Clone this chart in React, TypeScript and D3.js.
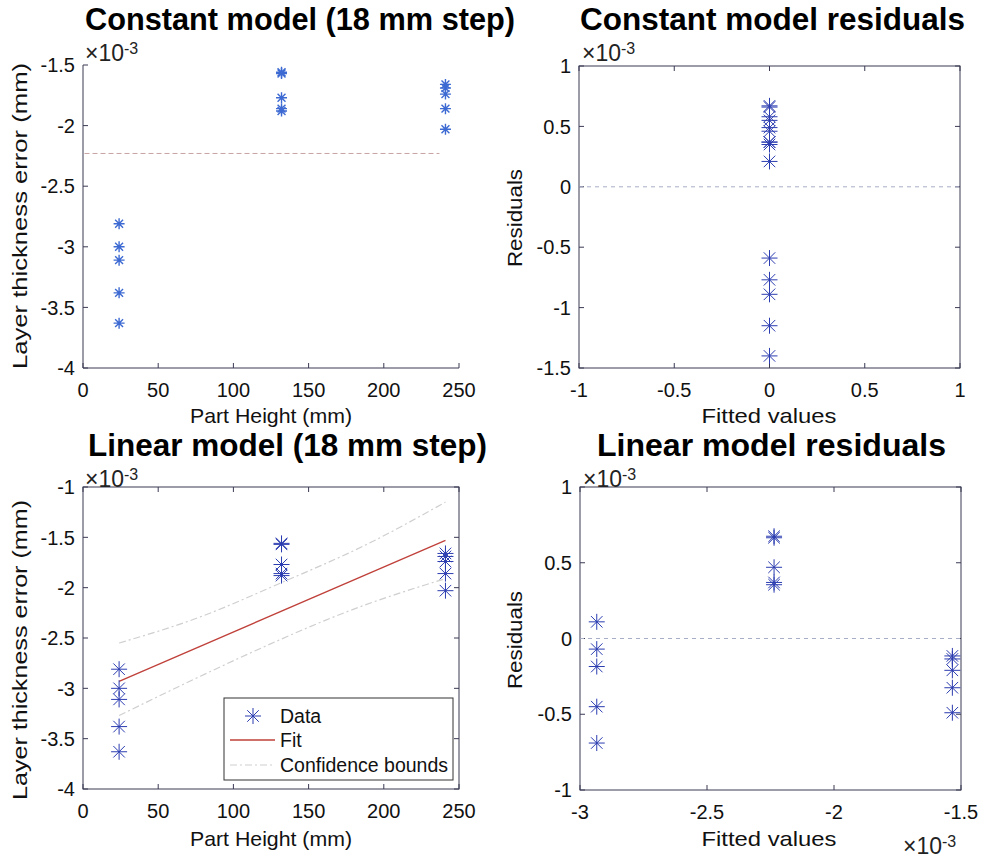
import React from "react";
import * as d3 from "d3";

// ---------- data (values in units of 1e-3 mm) ----------
const partHeights = [24, 24, 24, 24, 24, 132, 132, 132, 132, 132, 241, 241, 241, 241, 241];
const thicknessError = [-2.81, -3.0, -3.11, -3.38, -3.63, -1.56, -1.57, -1.77, -1.86, -1.88, -1.66, -1.69, -1.74, -1.86, -2.03];

const constantFitValue = -2.23;
const constantFitRange = [1, 237];
const constantFitted = [0, 0, 0, 0, 0, 0, 0, 0, 0, 0, 0, 0, 0, 0, 0];
const constantResiduals = [-0.59, -0.77, -0.89, -1.15, -1.4, 0.67, 0.66, 0.46, 0.37, 0.35, 0.58, 0.55, 0.49, 0.37, 0.21];

const linearFitX = [24, 241];
const linearFitY = [-2.93, -1.53];
const boundX = [24, 78, 132, 186, 241];
const upperBound = [-2.55, -2.29, -1.95, -1.59, -1.15];
const lowerBound = [-3.27, -2.88, -2.51, -2.18, -1.91];

const linearFitted = [-2.934, -2.934, -2.934, -2.934, -2.934, -2.236, -2.236, -2.236, -2.236, -2.236, -1.534, -1.534, -1.534, -1.534, -1.534];
const linearResiduals = [0.11, -0.07, -0.185, -0.45, -0.69, 0.675, 0.665, 0.47, 0.37, 0.355, -0.115, -0.135, -0.21, -0.325, -0.49];

const heightTicks = [0, 50, 100, 150, 200, 250];
const constErrTicks = [-4, -3.5, -3, -2.5, -2, -1.5];
const linErrTicks = [-4, -3.5, -3, -2.5, -2, -1.5, -1];
const constFittedTicks = [-1, -0.5, 0, 0.5, 1];
const constResidTicks = [-1.5, -1, -0.5, 0, 0.5, 1];
const linFittedTicks = [-3, -2.5, -2, -1.5];
const linResidTicks = [-1, -0.5, 0, 0.5, 1];

const titles = ["Constant model (18 mm step)", "Constant model residuals", "Linear model (18 mm step)", "Linear model residuals"];
const legendLabels = ["Data", "Fit", "Confidence bounds"];

// ---------- styling ----------
const FONT = "'Liberation Sans', Arial, Helvetica, sans-serif";
const AXIS = "#3a3a55";
const STAR = "#2b3cb0";
const STAR_LIGHT = "#3d6ad2";

function starPath(r: number) {
  const d = r * 0.72;
  return `M${-r},0L${r},0M0,${-r}L0,${r}M${-d},${-d}L${d},${d}M${-d},${d}L${d},${-d}`;
}

type Box = { l: number; r: number; t: number; b: number };

function Axes({ box, xDomain, yDomain, xTicks, yTicks, boxed }: any) {
  const x = d3.scaleLinear().domain(xDomain).range([box.l, box.r]);
  const y = d3.scaleLinear().domain(yDomain).range([box.b, box.t]);
  const tl = 5;
  return (
    <g>
      {boxed ? (
        <rect x={box.l} y={box.t} width={box.r - box.l} height={box.b - box.t} fill="none" stroke={AXIS} strokeWidth={1} />
      ) : (
        <path d={`M${box.l},${box.t}L${box.l},${box.b}L${box.r},${box.b}`} fill="none" stroke={AXIS} strokeWidth={1} />
      )}
      {xTicks.map((v: number) => (
        <g key={"x" + v}>
          <line x1={x(v)} x2={x(v)} y1={box.b} y2={box.b - tl} stroke={AXIS} />
          {boxed && <line x1={x(v)} x2={x(v)} y1={box.t} y2={box.t + tl} stroke={AXIS} />}
          <text x={x(v)} y={box.b + 29} textAnchor="middle" fontSize={20} fontFamily={FONT} fill="#111">
            {String(v)}
          </text>
        </g>
      ))}
      {yTicks.map((v: number) => (
        <g key={"y" + v}>
          <line x1={box.l} x2={box.l + tl} y1={y(v)} y2={y(v)} stroke={AXIS} />
          {boxed && <line x1={box.r} x2={box.r - tl} y1={y(v)} y2={y(v)} stroke={AXIS} />}
          <text x={box.l - 8} y={y(v)} dy="0.36em" textAnchor="end" fontSize={20} fontFamily={FONT} fill="#111">
            {String(v)}
          </text>
        </g>
      ))}
    </g>
  );
}

function Exponent({ x, y }: { x: number; y: number }) {
  return (
    <text x={x} y={y} fontSize={23} fontFamily={FONT} fill="#222">
      ×10
      <tspan dy={-7} fontSize={16}>-3</tspan>
    </text>
  );
}

function Title({ x, y, text, len }: any) {
  return (
    <text
      transform={`translate(${x},${y}) scale(1,1.15)`}
      fontSize={28}
      fontWeight="bold"
      fontFamily={FONT}
      textLength={len}
      lengthAdjust="spacingAndGlyphs"
      fill="#000"
    >
      {text}
    </text>
  );
}

function XLabel({ x, y, text, len }: any) {
  return (
    <text x={x} y={y} textAnchor="middle" fontSize={21} fontFamily={FONT} textLength={len} lengthAdjust="spacingAndGlyphs" fill="#111">
      {text}
    </text>
  );
}

function YLabel({ x, y, text, len }: any) {
  return (
    <text
      transform={`translate(${x},${y}) rotate(-90)`}
      textAnchor="middle"
      fontSize={21}
      fontFamily={FONT}
      textLength={len}
      lengthAdjust="spacingAndGlyphs"
      fill="#111"
    >
      {text}
    </text>
  );
}

export default function App() {
  const b1: Box = { l: 83, r: 459, t: 65, b: 368 };
  const b2: Box = { l: 579, r: 960, t: 66, b: 368 };
  const b3: Box = { l: 83, r: 459, t: 487, b: 789 };
  const b4: Box = { l: 580, r: 961, t: 487, b: 790 };

  const x1 = d3.scaleLinear().domain([0, 250]).range([b1.l, b1.r]);
  const y1 = d3.scaleLinear().domain([-4, -1.5]).range([b1.b, b1.t]);
  const x2 = d3.scaleLinear().domain([-1, 1]).range([b2.l, b2.r]);
  const y2 = d3.scaleLinear().domain([-1.5, 1]).range([b2.b, b2.t]);
  const x3 = d3.scaleLinear().domain([0, 250]).range([b3.l, b3.r]);
  const y3 = d3.scaleLinear().domain([-4, -1]).range([b3.b, b3.t]);
  const x4 = d3.scaleLinear().domain([-3, -1.5]).range([b4.l, b4.r]);
  const y4 = d3.scaleLinear().domain([-1, 1]).range([b4.b, b4.t]);

  const line3 = d3
    .line<number>()
    .x((_, i) => x3(linearFitX[i]))
    .y((d) => y3(d));
  const boundLine = d3
    .line<number>()
    .x((_, i) => x3(boundX[i]))
    .y((d) => y3(d))
    .curve(d3.curveNatural);

  const smallStar = starPath(5.5);
  const bigStar = starPath(8);

  return (
    <svg width={984} height={859} style={{ position: "absolute", left: 0, top: 0, background: "#fff" }}>
      <rect width={984} height={859} fill="#fff" />

      {/* Titles */}
      <Title x={85} y={30} text={titles[0]} len={430} />
      <Title x={580} y={30} text={titles[1]} len={385} />
      <Title x={88} y={456} text={titles[2]} len={399} />
      <Title x={597} y={456} text={titles[3]} len={349} />

      {/* Panel 1: constant model */}
      <Axes box={b1} xDomain={[0, 250]} yDomain={[-4, -1.5]} xTicks={heightTicks} yTicks={constErrTicks} boxed={false} />
      <line
        x1={x1(constantFitRange[0])}
        x2={x1(constantFitRange[1])}
        y1={y1(constantFitValue)}
        y2={y1(constantFitValue)}
        stroke="#c9a3a3"
        strokeWidth={1}
        strokeDasharray="5 3"
      />
      {partHeights.map((h, i) => (
        <path key={"p1" + i} d={smallStar} transform={`translate(${x1(h)},${y1(thicknessError[i])})`} stroke={STAR_LIGHT} strokeWidth={1.4} fill="none" />
      ))}
      <Exponent x={85} y={61} />
      <XLabel x={271} y={423} text="Part Height (mm)" len={162} />
      <YLabel x={27} y={216} text="Layer thickness error (mm)" len={306} />

      {/* Panel 2: constant residuals */}
      <Axes box={b2} xDomain={[-1, 1]} yDomain={[-1.5, 1]} xTicks={constFittedTicks} yTicks={constResidTicks} boxed={true} />
      <line x1={b2.l} x2={b2.r} y1={y2(0)} y2={y2(0)} stroke="#a8aec8" strokeWidth={1} strokeDasharray="4 4" />
      {constantFitted.map((f, i) => (
        <path key={"p2" + i} d={bigStar} transform={`translate(${x2(f)},${y2(constantResiduals[i])})`} stroke={STAR} strokeWidth={1} fill="none" />
      ))}
      <Exponent x={582} y={61} />
      <XLabel x={769} y={423} text="Fitted values" len={135} />
      <YLabel x={522} y={218} text="Residuals" len={98} />

      {/* Panel 3: linear model */}
      <Axes box={b3} xDomain={[0, 250]} yDomain={[-4, -1]} xTicks={heightTicks} yTicks={linErrTicks} boxed={true} />
      <path d={boundLine(upperBound) || ""} fill="none" stroke="#cfcfcf" strokeWidth={1.2} strokeDasharray="7 3 2 3" />
      <path d={boundLine(lowerBound) || ""} fill="none" stroke="#cfcfcf" strokeWidth={1.2} strokeDasharray="7 3 2 3" />
      <path d={line3(linearFitY) || ""} fill="none" stroke="#c0403a" strokeWidth={1.3} />
      {partHeights.map((h, i) => (
        <path key={"p3" + i} d={bigStar} transform={`translate(${x3(h)},${y3(thicknessError[i])})`} stroke={STAR} strokeWidth={1} fill="none" />
      ))}
      <Exponent x={85} y={487} />
      <XLabel x={271} y={846} text="Part Height (mm)" len={162} />
      <YLabel x={27} y={650} text="Layer thickness error (mm)" len={300} />

      {/* Legend */}
      <g>
        <rect x={224} y={698} width={229} height={82} fill="#fff" stroke="#333" strokeWidth={1} />
        <path d={bigStar} transform="translate(253,716)" stroke={STAR} strokeWidth={1} fill="none" />
        <text x={280} y={723} fontSize={19.5} fontFamily={FONT} fill="#111">{legendLabels[0]}</text>
        <line x1={230} x2={275} y1={740} y2={740} stroke="#c0403a" strokeWidth={1.3} />
        <text x={280} y={747} fontSize={19.5} fontFamily={FONT} fill="#111">{legendLabels[1]}</text>
        <line x1={230} x2={275} y1={765} y2={765} stroke="#cfcfcf" strokeWidth={1.2} strokeDasharray="7 3 2 3" />
        <text x={280} y={772} fontSize={19.5} fontFamily={FONT} fill="#111" textLength={168} lengthAdjust="spacingAndGlyphs">{legendLabels[2]}</text>
      </g>

      {/* Panel 4: linear residuals */}
      <Axes box={b4} xDomain={[-3, -1.5]} yDomain={[-1, 1]} xTicks={linFittedTicks} yTicks={linResidTicks} boxed={true} />
      <line x1={b4.l} x2={b4.r} y1={y4(0)} y2={y4(0)} stroke="#a8aec8" strokeWidth={1} strokeDasharray="4 4" />
      {linearFitted.map((f, i) => (
        <path key={"p4" + i} d={bigStar} transform={`translate(${x4(f)},${y4(linearResiduals[i])})`} stroke={STAR} strokeWidth={1} fill="none" />
      ))}
      <Exponent x={583} y={487} />
      <XLabel x={769} y={846} text="Fitted values" len={135} />
      <YLabel x={522} y={640} text="Residuals" len={98} />
      <Exponent x={903} y={854} />
    </svg>
  );
}
